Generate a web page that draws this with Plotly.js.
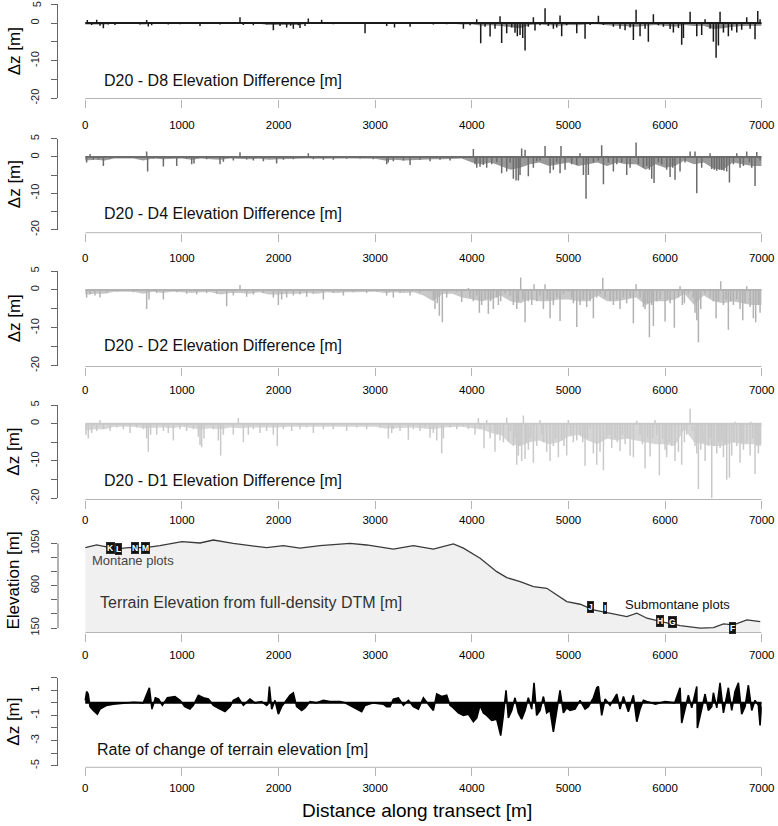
<!DOCTYPE html>
<html>
<head>
<meta charset="utf-8">
<script src="https://cdn.plot.ly/plotly-3.0.1.min.js"></script>
<style>html,body{margin:0;padding:0;background:#fff}#chart{width:778px;height:826px}</style>
</head>
<body>
<div id="chart"></div>
<script>
// ---------------- data ----------------
const xTicks = [0, 1000, 2000, 3000, 4000, 5000, 6000, 7000];
const dzTickVals = [-20, -15, -10, -5, 0, 5];
const dzTickText = ['-20', '', '-10', '', '0', '5'];
const elevTickVals = [150, 300, 450, 600, 750, 900, 1050];
const elevTickText = ['150', '', '', '600', '', '', '1050'];
const rateTickVals = [-5, -4, -3, -2, -1, 0, 1, 2];
const rateTickText = ['-5', '', '-3', '', '-1', '', '1', ''];

const panelTitles = [
  'D20 - D8 Elevation Difference [m]',
  'D20 - D4 Elevation Difference [m]',
  'D20 - D2 Elevation Difference [m]',
  'D20 - D1 Elevation Difference [m]',
  'Terrain Elevation from full-density DTM [m]',
  'Rate of change of terrain elevation [m]'
];

// 100 m bins used for the dense "curtain" of small differences
const binStarts = [0,100,200,300,400,500,600,700,800,900,1000,1100,1200,1300,1400,1500,1600,1700,1800,1900,2000,2100,2200,2300,2400,2500,2600,2700,2800,2900,3000,3100,3200,3300,3400,3500,3600,3700,3800,3900,4000,4100,4200,4300,4400,4500,4600,4700,4800,4900,5000,5100,5200,5300,5400,5500,5600,5700,5800,5900,6000,6100,6200,6300,6400,6500,6600,6700,6800,6900,7000];

// D20 - D8
const d8_band = [-0.4,-0.4,-0.4,-0.2,-0.2,-0.2,-0.4,-0.2,-0.2,-0.2,-0.2,-0.2,-0.2,-0.2,-0.2,-0.2,-0.2,-0.2,-0.2,-0.5,-0.5,-0.5,-0.5,-0.2,-0.2,-0.2,-0.2,-0.2,-0.3,-0.3,-0.2,-0.3,-0.3,-0.3,-0.2,-0.2,-0.3,-0.2,-0.2,-0.4,-0.3,-0.7,-0.6,-0.8,-1.2,-1.4,-0.5,-0.4,-0.6,-0.7,-0.5,-0.6,-0.3,-0.3,-0.6,-0.7,-0.8,-1.0,-0.7,-0.5,-0.7,-1.0,-0.5,-0.8,-0.7,-1.6,-1.4,-1.0,-0.8,-0.7,-0.7];
const d8_x = [21,66,118,152,187,238,307,428,566,635,652,687,739,859,980,1187,1256,1394,1498,1601,1636,1739,1877,1946,2015,2084,2125,2153,2205,2222,2274,2308,2446,2567,2705,2895,3016,3119,3200,3361,3499,3602,3740,3913,3982,4051,4092,4137,4189,4240,4292,4309,4361,4413,4447,4471,4499,4527,4551,4585,4637,4654,4706,4758,4792,4844,4879,4913,4930,4982,5086,5172,5224,5310,5362,5465,5534,5586,5638,5672,5700,5741,5793,5827,5879,5931,5983,6052,6086,6138,6172,6190,6259,6328,6379,6414,6466,6500,6528,6552,6569,6604,6655,6690,6742,6793,6845,6880,6931,6959,6983];
const d8_dz = [0.8,-0.5,0.9,-0.7,-1.4,-0.4,-0.5,0.3,-0.4,0.8,-0.9,-0.6,0.3,-0.4,-0.3,-0.8,0.3,-0.4,0.3,1.5,-0.5,-0.6,-0.4,-1.9,-0.8,-1.2,-0.7,-1.5,-0.6,-1.3,-0.8,1.2,0.9,-0.3,0.3,-2.7,0.3,-0.8,-1.2,-1.0,0.3,-0.4,-0.3,-1.5,-0.6,1.0,-5.4,-1.0,-3.6,-1.5,1.8,-5.3,-2.7,-1.2,-2.6,-3.5,-3.2,-4.0,-7.3,-1.0,1.5,-2.0,-0.6,3.9,-0.8,-1.5,-1.2,2.0,-3.5,-0.6,-2.7,-4.2,-0.5,1.9,-0.5,-1.0,-1.5,-1.9,-1.2,-4.5,3.5,-3.5,-1.5,-5.0,2.3,-0.6,-1.0,-1.6,-2.5,-1.3,-5.8,-4.0,3.0,-3.5,-3.2,1.0,-1.5,-5.0,-9.2,-6.0,3.0,-2.5,-3.5,-2.0,-2.5,-1.8,1.5,-1.5,-4.3,3.2,1.0];

// D20 - D4
const d4_band = [-1.0,-0.8,-1.0,-0.4,-0.4,-0.4,-1.0,-0.4,-0.6,-0.6,-0.4,-0.8,-0.4,-0.6,-0.8,-0.4,-0.6,-0.6,-0.5,-0.8,-0.6,-0.5,-0.5,-0.4,-0.5,-0.4,-0.4,-0.4,-0.4,-0.4,-0.5,-1.0,-0.8,-1.0,-0.8,-0.8,-0.6,-0.6,-0.4,-0.4,-1.5,-2.0,-1.5,-2.5,-3.5,-3.0,-2.0,-1.5,-2.5,-2.0,-1.5,-2.5,-2.0,-1.5,-2.5,-1.5,-2.0,-2.0,-3.5,-2.0,-3.0,-2.5,-1.0,-2.0,-1.5,-3.2,-3.5,-1.5,-2.0,-2.5,-2.5];
const d4_x = [14,49,83,135,187,256,428,635,645,704,808,946,1049,1101,1125,1256,1394,1429,1532,1601,1670,1739,1843,1980,2050,2153,2308,2360,2464,2567,2705,2843,2981,3119,3135,3188,3292,3361,3464,3568,3671,3775,3913,4016,4033,4051,4085,4120,4154,4206,4258,4309,4361,4396,4430,4458,4482,4499,4516,4551,4585,4637,4672,4706,4758,4810,4844,4879,4913,4923,4965,5034,5086,5120,5155,5182,5206,5258,5310,5344,5362,5413,5465,5500,5551,5603,5638,5700,5724,5776,5810,5838,5862,5886,5931,5965,6017,6052,6079,6103,6155,6207,6259,6310,6328,6379,6466,6483,6510,6535,6562,6586,6610,6638,6666,6707,6742,6776,6811,6845,6873,6897,6931,6949,6983];
const d4_dz = [-1.5,0.8,-0.8,-0.6,-2.5,-0.5,-0.3,1.5,-4.0,-0.5,-2.6,-2.5,-0.5,-2.0,-1.8,-0.6,-2.0,-1.3,-1.0,1.3,-0.7,-1.0,-1.2,-1.8,-0.8,-0.6,1.0,-0.6,-0.8,-0.8,-0.5,-0.4,-0.6,-2.0,-1.5,-1.2,-1.0,-2.2,-0.8,-1.2,-0.8,-1.0,-0.4,2.2,-2.0,-3.0,-2.7,-2.2,-3.0,-2.0,-1.5,-4.5,-4.0,-1.5,-6.0,-6.5,-6.5,-5.0,2.3,2.0,-5.3,-3.0,-1.2,-1.0,3.0,-4.5,-3.5,-1.5,-4.5,3.0,-3.5,-2.0,-2.2,1.0,-5.0,-11.5,-5.0,-1.5,-1.0,3.2,-7.5,-1.5,-4.0,-2.0,-1.5,-5.0,-3.0,4.0,-2.0,-3.0,-2.5,-3.5,-6.0,-7.2,-1.5,-2.0,-3.5,-5.5,-3.0,-6.3,-4.0,-1.5,1.5,1.5,-10.0,-3.0,1.0,-3.3,-3.5,-3.8,-3.5,-3.6,-3.8,-4.0,-7.0,-2.0,1.0,-3.0,-2.5,1.5,-1.5,-3.0,-8.0,1.4,-1.0];

// D20 - D2
const d2_band = [-1.2,-1.0,-1.0,-0.5,-0.5,-0.5,-1.0,-0.5,-0.8,-0.5,-0.6,-0.8,-0.6,-0.6,-1.2,-0.8,-0.8,-1.0,-0.6,-1.2,-1.2,-1.0,-1.0,-0.8,-1.0,-0.6,-0.8,-0.6,-0.6,-0.5,-0.5,-0.8,-0.6,-0.8,-0.6,-1.5,-3.0,-1.0,-1.0,-2.0,-2.5,-3.0,-2.5,-1.5,-3.0,-3.5,-2.5,-3.0,-3.0,-2.5,-2.5,-3.0,-3.0,-1.5,-3.0,-3.0,-2.5,-2.0,-4.0,-3.0,-3.0,-2.5,-1.0,-4.0,-1.5,-3.0,-3.5,-3.0,-3.5,-4.0,-4.0];
const d2_x = [14,49,100,152,221,325,497,635,659,739,808,946,1049,1153,1256,1360,1463,1532,1601,1670,1739,1843,1946,1998,2032,2084,2153,2222,2291,2360,2464,2567,2671,2774,2912,3016,3119,3150,3188,3257,3361,3464,3568,3602,3619,3643,3664,3695,3740,3844,3895,3964,3982,4016,4051,4078,4102,4137,4171,4195,4223,4258,4275,4299,4344,4396,4430,4465,4482,4506,4527,4551,4585,4620,4644,4672,4706,4741,4758,4782,4810,4844,4879,4913,4948,4999,5034,5051,5086,5120,5155,5189,5224,5258,5293,5327,5355,5379,5431,5465,5500,5534,5569,5603,5638,5672,5700,5741,5776,5793,5817,5838,5862,5879,5914,5948,6000,6024,6052,6096,6138,6155,6179,6200,6241,6293,6310,6328,6345,6369,6414,6466,6500,6528,6552,6576,6604,6631,6655,6679,6707,6742,6776,6804,6828,6845,6880,6914,6938,6966,6983];
const d2_dz = [-2.0,-1.2,-1.5,-2.0,-0.8,-0.5,-0.6,-5.0,-2.5,-0.8,-2.5,-0.6,-1.0,-1.2,-0.8,-1.0,-4.3,-1.5,1.3,-1.8,-1.2,-0.8,-2.0,-4.0,-2.5,-2.0,-1.5,-1.2,-1.8,-1.0,-2.5,-0.8,-1.5,-0.6,-0.8,-0.5,-1.5,-0.5,-2.0,-0.8,-1.5,-0.6,-0.5,-2.5,-5.0,-3.5,-6.8,-8.5,-2.0,-0.5,-3.2,0.5,-2.0,-3.0,-1.5,-6.0,-4.0,-2.5,-6.3,-3.0,-5.0,-2.0,-4.0,-3.0,-1.0,-1.5,-4.0,-5.0,-3.0,3.3,-2.5,-8.5,-3.0,-4.0,1.5,-3.0,-1.5,-5.0,1.5,-2.5,-7.5,-4.0,-2.0,-8.2,-1.0,-0.5,-2.0,-3.5,-9.8,-4.0,-2.5,-4.5,-3.0,-7.5,-2.0,-1.0,3.2,-2.0,-3.0,-4.0,-2.5,-5.0,-2.0,-3.5,-2.0,-8.8,1.5,-2.0,-4.5,-5.0,-3.5,-12.5,-4.0,-9.5,-3.0,-2.5,-8.3,-2.5,-3.5,-10.0,-2.0,1.0,-4.0,-3.5,-1.0,-2.0,-6.0,-8.0,-13.8,-5.0,-1.0,-2.0,-3.0,-7.5,-3.0,2.3,-4.0,-2.5,-10.5,-3.0,-4.0,-2.5,-5.0,-8.0,-3.5,1.0,-4.5,-7.5,-8.5,-4.0,-6.0];

// D20 - D1
const d1_band = [-1.8,-1.5,-1.5,-0.8,-0.8,-0.8,-1.2,-1.0,-1.0,-1.2,-0.8,-1.2,-1.5,-1.2,-1.5,-1.0,-1.2,-1.0,-1.0,-1.2,-1.0,-0.8,-0.8,-0.6,-0.6,-0.6,-0.6,-0.6,-0.6,-0.6,-0.8,-1.3,-1.2,-1.3,-1.0,-1.3,-1.5,-1.0,-0.8,-0.8,-1.2,-1.5,-2.5,-3.0,-5.5,-6.0,-5.0,-4.5,-5.5,-5.0,-3.5,-3.0,-4.5,-5.5,-4.0,-4.5,-4.0,-4.5,-5.0,-5.5,-5.5,-6.0,-1.5,-5.0,-5.5,-6.0,-6.0,-5.0,-5.5,-5.5,-5.5];
const d1_x = [7,31,66,118,152,187,256,325,394,463,532,601,635,652,676,739,808,859,911,980,1049,1118,1170,1187,1204,1228,1325,1377,1401,1429,1532,1584,1636,1687,1739,1808,1877,1946,1987,2050,2136,2222,2291,2360,2464,2567,2705,2809,2912,3050,3136,3171,3188,3257,3343,3395,3464,3516,3568,3602,3637,3688,3706,3775,3844,3913,3964,4033,4068,4085,4126,4154,4189,4240,4264,4292,4327,4361,4378,4402,4430,4447,4465,4482,4499,4516,4534,4551,4568,4585,4609,4637,4672,4706,4723,4741,4775,4810,4844,4868,4896,4930,4954,4982,4999,5023,5051,5086,5120,5148,5172,5196,5224,5258,5293,5327,5362,5396,5424,5448,5482,5506,5534,5558,5586,5610,5638,5672,5707,5741,5765,5793,5820,5845,5872,5896,5914,5941,5976,6000,6017,6045,6069,6103,6138,6172,6200,6224,6259,6283,6310,6328,6345,6369,6390,6414,6448,6466,6483,6507,6535,6552,6569,6586,6604,6621,6638,6666,6690,6714,6724,6742,6776,6793,6811,6845,6880,6886,6907,6931,6949,6966,6983];
const d1_dz = [-3.0,-4.0,-2.5,-2.0,1.0,-1.5,-2.0,-1.0,-1.5,-2.5,-1.0,-1.5,-4.0,-7.5,-3.0,-3.0,-2.0,-2.5,-4.5,-1.5,-2.0,-1.5,-3.5,-5.7,-6.3,-4.0,-1.5,-4.5,-8.5,-3.0,-3.0,1.5,-5.0,-3.0,-1.5,-2.5,-2.0,-3.0,-6.0,-1.5,-2.0,-1.5,-1.0,-2.5,-1.5,-1.5,-2.0,-1.0,-1.5,-1.0,-4.0,-2.5,-1.5,-2.0,-4.3,-1.5,-2.0,-1.0,-3.8,-2.5,-4.5,-8.0,-4.0,-1.0,-1.5,-0.8,-1.5,-3.0,1.5,-1.5,-6.6,1.0,-4.0,-7.5,-3.0,-4.5,-5.0,1.6,-4.8,-2.0,-6.0,-4.0,-11.0,-8.5,-6.0,-10.0,2.2,-9.5,-5.0,-7.0,-4.0,-10.5,-6.0,1.0,-3.0,-5.0,-7.5,-10.0,-6.0,-4.0,-9.0,-4.5,-6.0,-8.5,1.0,-3.0,-5.0,-4.5,-3.0,-5.0,-11.3,-4.0,-1.5,-8.0,-11.0,-7.5,-12.5,-4.0,-3.0,-6.5,-4.0,-5.0,-7.3,-3.0,-5.5,-4.0,-8.5,-9.0,0.8,-3.0,-5.5,-12.0,-4.0,-8.8,-4.0,1.0,-3.0,-13.8,-4.0,-7.0,-9.0,-5.0,-6.0,-10.0,-7.5,-11.0,-5.0,-3.0,4.0,-2.0,-6.0,-8.0,-17.5,-7.0,-5.0,-10.0,-6.0,-4.0,-20.0,-6.0,-8.0,-5.0,-6.5,-4.5,-9.0,-5.5,-15.0,-14.5,-8.5,-5.0,0.5,-6.0,-10.5,-5.0,-7.0,-5.0,-8.5,0.5,-4.0,-13.5,-6.0,-8.0,-6.0];

// Terrain elevation
const elev_x = [0,117,256,340,450,620,772,1000,1187,1325,1530,1738,1876,2049,2222,2429,2740,2912,3050,3153,3188,3395,3602,3809,3913,4086,4258,4362,4500,4638,4776,4983,5121,5259,5466,5604,5708,5812,5983,6156,6363,6501,6605,6708,6847,6985];
const elev_z = [1005,1034,1005,995,1005,1005,1027,1069,1055,1087,1050,1027,1005,1027,1000,1027,1050,1034,1016,1000,991,1027,991,1045,1000,893,750,686,644,590,573,431,403,343,297,271,307,254,212,176,148,154,193,183,236,218];

// Plot markers on the profile
const plotIds = ['K', 'L', 'N', 'M', 'J', 'I', 'H', 'G', 'F'];
const plot_x = [256, 340, 515, 618, 5225, 5380, 5948, 6076, 6700];
const plot_z = [999, 988, 999, 999, 371, 360, 228, 214, 147];

// Rate of change
const rate_x = [0,14,30,49,83,125,152,221,290,400,500,600,635,663,690,725,759,797,850,928,980,1030,1083,1118,1170,1222,1274,1325,1394,1446,1498,1532,1584,1636,1704,1756,1825,1877,1890,1905,1929,1963,1998,2032,2118,2153,2187,2239,2274,2325,2394,2463,2532,2636,2688,2739,2860,2895,2981,3084,3119,3153,3188,3240,3292,3344,3395,3447,3499,3568,3602,3637,3688,3740,3775,3809,3861,3913,3964,4016,4051,4085,4120,4154,4206,4258,4299,4326,4354,4378,4413,4447,4482,4516,4551,4585,4620,4644,4671,4706,4741,4775,4810,4844,4879,4913,4948,4982,5017,5068,5120,5172,5206,5258,5293,5310,5344,5379,5431,5500,5534,5569,5620,5672,5707,5741,5776,5810,5900,6000,6100,6155,6172,6207,6241,6276,6328,6334,6379,6414,6448,6483,6500,6535,6569,6604,6655,6690,6724,6759,6793,6828,6862,6897,6931,6966,6983,7000];
const rate_dz = [0.2,0.9,0.7,-0.3,-0.6,-0.9,-0.5,-0.2,-0.1,0.0,0.05,0.0,0.6,1.2,-0.5,0.4,0.3,-0.2,0.4,0.5,0.2,-0.3,-0.5,-0.2,0.6,0.4,0.3,-0.2,-0.5,-0.7,-0.3,0.2,0.4,-0.2,0.3,0.0,0.1,-0.2,-0.1,1.3,-0.5,0.2,-0.9,-0.3,0.6,0.8,-0.3,-0.6,-0.4,0.1,0.0,0.2,0.1,0.1,0.0,-0.2,-0.7,-0.2,0.0,-0.1,-0.3,-0.3,0.3,0.4,-0.2,0.2,-0.3,-0.5,0.4,-0.3,-0.6,0.7,0.5,0.6,-0.2,-0.4,-0.8,-1.0,-0.9,-1.5,-1.2,-0.2,-0.8,-1.0,-1.4,-1.3,-2.6,-1.0,1.0,-1.2,-0.6,0.4,-0.8,-1.3,-0.6,0.4,-0.5,1.6,-1.0,-0.6,0.5,-0.8,-0.6,-2.3,-0.5,1.0,-0.8,-0.4,-0.6,-0.5,0.2,-0.5,-0.3,0.4,1.2,1.3,-1.0,0.3,-0.2,0.7,-0.5,0.5,-0.7,0.6,-1.5,-0.5,0.2,0.1,-0.1,0.1,0.0,1.2,-1.6,-0.4,0.6,-0.4,1.3,-2.0,-0.5,0.7,-0.6,-0.3,0.8,-0.4,1.6,-0.8,1.2,-0.6,0.9,1.6,-0.9,-0.3,1.4,-0.6,0.2,-0.2,-1.8,-0.3];

// ---------------- drawing ----------------
const FONT = 'Liberation Sans, Arial, Helvetica, sans-serif';
const W = 778, H = 826;
const px = v => v / W;
const py = v => 1 - v / H;
// horizontal geometry: y axis line at 58 px, x=0 at 85.3 px, x=7000 at 761.7 px
const AXL = 58, X0 = 85.3, X7 = 761.7;
const pxPerM = (X7 - X0) / 7000;
const xRange = [-(X0 - AXL) / pxPerM, 7000];

function spikes(xs, vs) {
  const x = [], y = [];
  xs.forEach((p, i) => { x.push(p, p, null); y.push(0, vs[i], null); });
  return { x, y };
}

const colors = ['#1a1a1a', '#6c6c6c', '#b2b2b2', '#c9c9c9'];
const bandColors = ['#8a8a8a', '#9a9a9a', '#c8c8c8', '#d6d6d6'];
const series = [[d8_x, d8_dz, d8_band], [d4_x, d4_dz, d4_band], [d2_x, d2_dz, d2_band], [d1_x, d1_dz, d1_band]];

const traces = [];
series.forEach((s, i) => {
  const k = i === 0 ? '' : String(i + 1);
  traces.push({
    x: binStarts, y: s[2], xaxis: 'x' + k, yaxis: 'y' + k, type: 'scatter', mode: 'lines',
    line: { color: bandColors[i], width: 0 }, fill: 'tozeroy', fillcolor: bandColors[i],
    hoverinfo: 'skip', showlegend: false
  });
  const sp = spikes(s[0], s[1]);
  traces.push({
    x: sp.x, y: sp.y, xaxis: 'x' + k, yaxis: 'y' + k,
    type: 'scatter', mode: 'lines', connectgaps: false,
    line: { color: colors[i], width: 1.5 }, hoverinfo: 'skip', showlegend: false
  });
});

traces.push({
  x: elev_x, y: elev_z, xaxis: 'x5', yaxis: 'y5', type: 'scatter', mode: 'lines',
  line: { color: '#3a3a3a', width: 1.3 }, fill: 'tozeroy', fillcolor: '#f0f0f0',
  hoverinfo: 'skip', showlegend: false
});

traces.push({
  x: rate_x, y: rate_dz, xaxis: 'x6', yaxis: 'y6', type: 'scatter', mode: 'lines',
  line: { color: '#000', width: 1.6 }, fill: 'tozeroy', fillcolor: '#000',
  hoverinfo: 'skip', showlegend: false
});

// panel geometry in pixels: [top, bottom] of plot region, x-axis line position
const panels = [
  { top: 4.2, bot: 98.3, axis: 98.5, range: [-20, 5], lab: 27 },
  { top: 138.8, bot: 229.6, axis: 232.7, range: [-20, 5], lab: 25 },
  { top: 271, bot: 365.7, axis: 366.5, range: [-20, 5], lab: 24 },
  { top: 405, bot: 498.3, axis: 499.5, range: [-20, 5], lab: 21 },
  { top: 536.9, bot: 632.3, axis: 632.5, range: [104.2, 1120], lab: 23 },
  { top: 677.7, bot: 765.7, axis: 767.3, range: [-5, 2], lab: 21 }
];

const layout = {
  width: W, height: H, autosize: false,
  margin: { l: 0, r: 0, t: 0, b: 0, pad: 0 },
  paper_bgcolor: '#fff', plot_bgcolor: 'rgba(0,0,0,0)',
  font: { family: FONT, color: '#000', size: 11 },
  showlegend: false,
  annotations: [], shapes: []
};

panels.forEach((p, i) => {
  const k = i === 0 ? '' : String(i + 1);
  layout['xaxis' + k] = {
    domain: [px(AXL), px(X7)], range: xRange, anchor: 'free', position: py(p.axis),
    tickvals: xTicks, ticktext: xTicks.map(String), ticks: 'outside', ticklen: 8,
    tickcolor: '#b5b5b5', showline: false, automargin: false,
    showgrid: false, zeroline: false, tickfont: { size: 11.5, color: '#000', family: FONT },
    ticklabelstandoff: p.lab - 19
  };
  layout.shapes.push({
    type: 'line', xref: 'x' + k, yref: 'paper', x0: xTicks[0], x1: xTicks[xTicks.length - 1],
    y0: py(p.axis), y1: py(p.axis), line: { color: '#b5b5b5', width: 1 }
  });
  let yt = { vals: dzTickVals, text: dzTickText };
  if (i === 4) yt = { vals: elevTickVals, text: elevTickText };
  if (i === 5) yt = { vals: rateTickVals, text: rateTickText };
  layout['yaxis' + k] = {
    domain: [py(p.bot), py(p.top)], range: p.range, anchor: 'x' + k, automargin: false,
    tickvals: yt.vals, ticktext: yt.text, ticks: 'outside', ticklen: 6, tickcolor: '#666',
    showline: i !== 4, linecolor: '#666', linewidth: 1, showgrid: false, zeroline: false,
    tickangle: -90, tickfont: { size: 11, color: '#222', family: FONT },
    ticklabelstandoff: 8
  };
  if (i !== 4) {
    layout.shapes.push({
      type: 'line', xref: 'x' + k, yref: 'y' + k, x0: xTicks[0], x1: xTicks[xTicks.length - 1],
      y0: 0, y1: 0, layer: 'above', line: { color: i < 4 ? colors[i] : '#000', width: 2 }
    });
  }
  layout.annotations.push({
    text: i === 4 ? 'Elevation [m]' : 'Δz [m]', textangle: -90,
    xref: 'paper', yref: 'paper', x: px(14), y: py((p.top + p.bot) / 2 - (i === 4 ? 4 : 0)),
    xanchor: 'center', yanchor: 'middle', showarrow: false,
    font: { size: 17, color: '#000', family: FONT }
  });
});

layout.shapes.push({
  type: 'line', xref: 'paper', yref: 'y5', x0: px(AXL), x1: px(AXL), y0: 150, y1: 1050,
  line: { color: '#666', width: 1 }
});

// top tick label of the first panel sits at the page edge; drawn as text so it is not dropped
layout.annotations.push({
  text: dzTickText[dzTickText.length - 1], textangle: -90, xref: 'paper', yref: 'y',
  x: px(37), y: dzTickVals[dzTickVals.length - 1], xanchor: 'center', yanchor: 'middle',
  showarrow: false, font: { size: 11, color: '#222', family: FONT }
});

const labelPos = [
  { x: 170, y: -15.2 }, { x: 170, y: -15.5 }, { x: 170, y: -14.7 }, { x: 170, y: -15.3 },
  { x: 135, y: 417 }, { x: 100, y: -3.7 }
];
labelPos.forEach((lp, i) => {
  const k = i === 0 ? '' : String(i + 1);
  layout.annotations.push({
    text: panelTitles[i], xref: 'x' + k, yref: 'y' + k, x: lp.x, y: lp.y,
    xanchor: 'left', yanchor: 'middle', showarrow: false,
    font: { size: 16, color: i === 4 ? '#333' : '#111', family: FONT }
  });
});

layout.annotations.push({
  text: 'Montane plots', xref: 'x5', yref: 'y5', x: 49, y: 867, xanchor: 'left', yanchor: 'middle',
  showarrow: false, font: { size: 13, color: '#444', family: FONT }
});
layout.annotations.push({
  text: 'Submontane plots', xref: 'x5', yref: 'y5', x: 5568, y: 396, xanchor: 'left', yanchor: 'middle',
  showarrow: false, font: { size: 13, color: '#111', family: FONT }
});
plotIds.forEach((id, i) => {
  layout.annotations.push({
    text: '<b>' + id + '</b>', xref: 'x5', yref: 'y5', x: plot_x[i], y: plot_z[i],
    xanchor: 'center', yanchor: 'middle', showarrow: false, bgcolor: '#111', borderpad: 0.5,
    bordercolor: '#111', borderwidth: 0.5, font: { size: 8.5, color: '#fff', family: FONT }
  });
});

layout.annotations.push({
  text: 'Distance along transect [m]', xref: 'paper', yref: 'paper', x: px(417), y: py(810),
  xanchor: 'center', yanchor: 'middle', showarrow: false,
  font: { size: 19, color: '#000', family: FONT }
});

Plotly.newPlot('chart', traces, layout, { staticPlot: true, displayModeBar: false });
</script>
</body>
</html>
